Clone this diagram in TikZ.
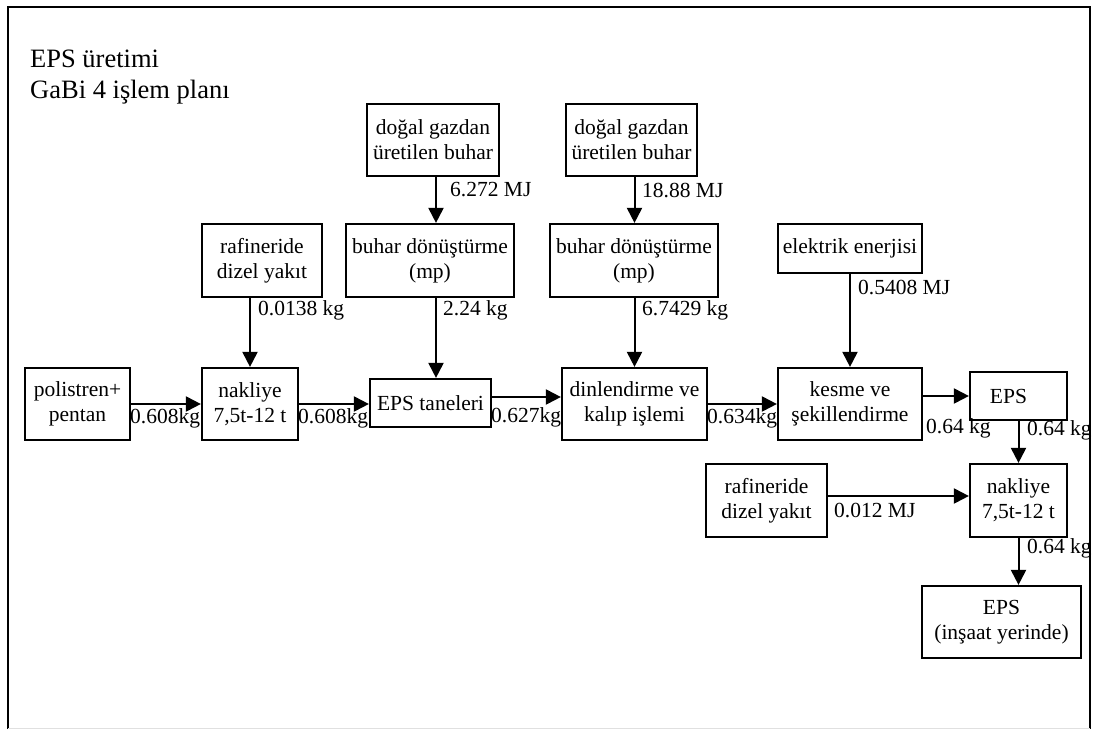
\documentclass[tikz,border=0pt]{standalone}
\usepackage{fontspec}
\setmainfont{Liberation Serif}
\usetikzlibrary{arrows.meta,calc}
\begin{document}
\begin{tikzpicture}[x=1pt,y=-1pt,
  box/.style={draw,line width=2.2pt,inner sep=0pt,align=center,
    font=\fontsize{21.5}{25}\selectfont},
  lbl/.style={inner sep=0pt,anchor=west,font=\fontsize{21.5}{25}\selectfont},
  ttl/.style={inner sep=0pt,anchor=base west,font=\fontsize{26.5}{32}\selectfont},
  arr/.style={line width=2pt,-{Triangle[length=15pt,width=15pt]}},
  frame/.style={line width=2.8pt}]
\useasboundingbox (0,0) rectangle (1093,729);

% outer frame, open at the bottom
\draw[frame] (8,729) -- (8,7) -- (1090,7) -- (1090,729);
\draw[black!12,line width=0.8pt] (8,728.5) -- (1090,728.5);

% title
\node[ttl] (t1) at (30,67) {EPS üretimi};
\node[ttl] (t2) at (30,98) {GaBi 4 işlem planı};

% upper supply boxes
\node[box,minimum width=132pt,minimum height=72pt] (dog1) at (433,140) {doğal gazdan\\üretilen buhar};
\node[box,minimum width=131pt,minimum height=72pt] (dog2) at (631.5,140) {doğal gazdan\\üretilen buhar};
\node[box,minimum width=120pt,minimum height=73pt] (raf1) at (262,260.5) {rafineride\\dizel yakıt};
\node[box,minimum width=168pt,minimum height=73pt] (buh1) at (430,260.5) {buhar dönüştürme\\(mp)};
\node[box,minimum width=168pt,minimum height=73pt] (buh2) at (634,260.5) {buhar dönüştürme\\(mp)};
\node[box,minimum width=144pt,minimum height=49pt] (elek) at (850,248.5) {elektrik enerjisi};

% main process chain
\node[box,minimum width=105pt,minimum height=72pt] (poli) at (77.5,404) {polistren+\\pentan};
\node[box,minimum width=96pt,minimum height=72pt] (nak1) at (250,404) {nakliye\\7,5t-12 t};
\node[box,minimum width=121pt,minimum height=48pt] (tan) at (430.5,403) {EPS taneleri};
\node[box,minimum width=145pt,minimum height=72pt] (dinl) at (634.5,404) {dinlendirme ve\\kalıp işlemi};
\node[box,minimum width=144pt,minimum height=72pt] (kes) at (850,404) {kesme ve\\şekillendirme};
\node[box,minimum width=97pt,minimum height=48pt] (eps) at (1018.5,396) {EPS\hspace*{20pt}};

% transport to the site
\node[box,minimum width=121pt,minimum height=73pt] (raf2) at (766.5,500.5) {rafineride\\dizel yakıt};
\node[box,minimum width=97pt,minimum height=73pt] (nak2) at (1018.5,500.5) {nakliye\\7,5t-12 t};
\node[box,minimum width=159pt,minimum height=72pt] (fin) at (1001.5,622) {EPS\\(inşaat yerinde)};

\coordinate (cB) at (436,0);

% vertical flows
\draw[arr] (dog1.south -| cB) -- (buh1.north -| cB);
\draw[arr] (buh1.south -| cB) -- (tan.north -| cB);
\draw[arr] (dog2.south -| dinl.north) -- (buh2.north -| dinl.north);
\draw[arr] (buh2.south -| dinl.north) -- (dinl.north);
\draw[arr] (raf1.south -| nak1.north) -- (nak1.north);
\draw[arr] (elek.south) -- (kes.north);
\draw[arr] (eps.south) -- (nak2.north);
\draw[arr] (nak2.south) -- (nak2.south |- fin.north);

% horizontal flows
\draw[arr] (poli.east) -- (nak1.west);
\draw[arr] (nak1.east) -- (nak1.east -| tan.west);
\draw[arr] ([yshift=6pt]tan.east) -- ([yshift=6pt]tan.east -| dinl.west);
\draw[arr] (dinl.east) -- (kes.west);
\draw[arr] (kes.east |- eps.west) -- (eps.west);
\draw[arr] ([yshift=4.5pt]raf2.east) -- ([yshift=4.5pt]raf2.east -| nak2.west);

% flow quantities
\node[lbl] (l1) at (450,190) {6.272 MJ};
\node[lbl] (l2) at (642,190) {18.88 MJ};
\node[lbl] (l3) at (258,310) {0.0138 kg};
\node[lbl] (l4) at (443,310) {2.24 kg};
\node[lbl] (l5) at (642,310) {6.7429 kg};
\node[lbl] (l6) at (858,287) {0.5408 MJ};
\node[lbl] (l7) at (130,418) {0.608kg};
\node[lbl] (l8) at (298,418) {0.608kg};
\node[lbl] (l9) at (491,417) {0.627kg};
\node[lbl] (l10) at (707,418) {0.634kg};
\node[lbl] (l11) at (926,428) {0.64 kg};
\node[lbl] (l12) at (1027,430) {0.64 kg};
\node[lbl] (l13) at (834,510) {0.012 MJ};
\node[lbl] (l14) at (1027,548) {0.64 kg};
\end{tikzpicture}
\end{document}
